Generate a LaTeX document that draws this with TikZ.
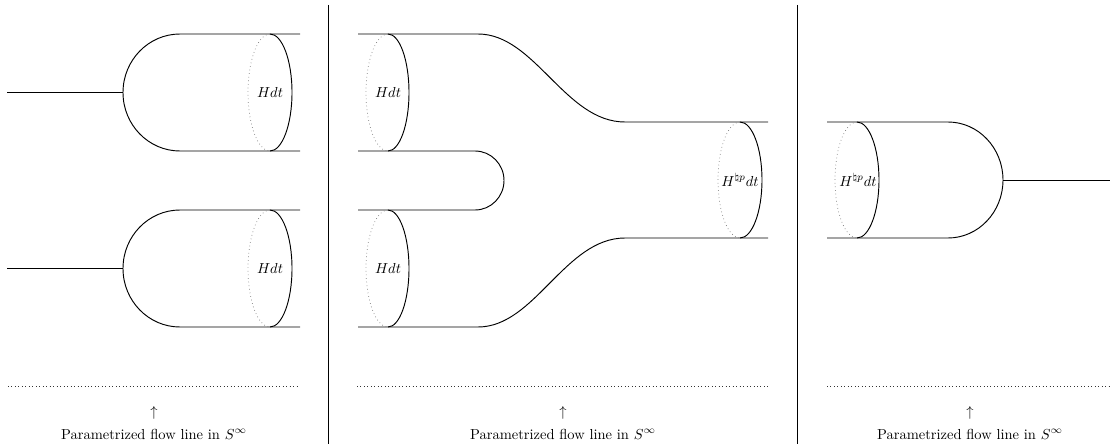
\documentclass[tikz,border=0pt]{standalone}
\usepackage{amssymb}
\begin{document}
\begin{tikzpicture}[x=0.69pt,y=0.69pt,
  tube/.style={line width=0.65pt},
  back/.style={dotted,gray,line width=0.5pt},
  sep/.style={line width=0.55pt},
  flowline/.style={dotted,line width=0.4pt,black!80},
  lab/.style={inner sep=0pt},
  captxt/.style={inner sep=0pt}]
\useasboundingbox (0,0) rectangle (1112,444);
% separators
\coordinate (s1t) at (328,439); \coordinate (s1b) at (328,0);
\coordinate (s2t) at (797,439); \coordinate (s2b) at (797,0);
\draw[sep] (s1t) -- (s1b);
\draw[sep] (s2t) -- (s2b);

% ---------- panel 1 ----------
% upper
\draw[tube] (7,351.5) -- (123,351.5);
\draw[tube] (300,410) -- (180,410) arc[start angle=90,end angle=270,x radius=57,y radius=58.5] -- (300,293);
\draw[tube] (270,410) arc[start angle=90,end angle=-90,x radius=22,y radius=58.5];
\draw[back] (270,410) arc[start angle=90,end angle=270,x radius=22,y radius=58.5];
\node[lab] (h1) at (270,351.5) {$H dt$};
% lower
\draw[tube] (7,175.5) -- (123,175.5);
\draw[tube] (300,234) -- (180,234) arc[start angle=90,end angle=270,x radius=57,y radius=58.5] -- (300,117);
\draw[tube] (270,234) arc[start angle=90,end angle=-90,x radius=22,y radius=58.5];
\draw[back] (270,234) arc[start angle=90,end angle=270,x radius=22,y radius=58.5];
\node[lab] (h2) at (270,175.5) {$H dt$};

% ---------- panel 2 ----------
\draw[tube] (358,410) -- (478,410) .. controls (535,410) and (565,322) .. (625,322) -- (768,322);
\draw[tube] (358,117) -- (478,117) .. controls (535,117) and (565,206) .. (625,206) -- (768,206);
\draw[tube] (358,293) -- (475,293) arc[start angle=90,end angle=-90,x radius=29,y radius=29.5] -- (358,234);
\draw[tube] (388,410) arc[start angle=90,end angle=-90,x radius=21,y radius=58.5];
\draw[back] (388,410) arc[start angle=90,end angle=270,x radius=22,y radius=58.5];
\node[lab] (h3) at (388,351.5) {$H dt$};
\draw[tube] (388,234) arc[start angle=90,end angle=-90,x radius=21,y radius=58.5];
\draw[back] (388,234) arc[start angle=90,end angle=270,x radius=22,y radius=58.5];
\node[lab] (h4) at (388,175.5) {$H dt$};
\draw[tube] (740,322) arc[start angle=90,end angle=-90,x radius=22,y radius=58];
\draw[back] (740,322) arc[start angle=90,end angle=270,x radius=22,y radius=58];
\node[lab] (h5) at (740,264) {$H^{\natural p}dt$};

% ---------- panel 3 ----------
\draw[tube] (827,322) -- (948,322) arc[start angle=90,end angle=-90,x radius=55,y radius=58] -- (827,206);
\draw[tube] (1003,264) -- (1110,264);
\draw[tube] (857,322) arc[start angle=90,end angle=-90,x radius=22,y radius=58];
\draw[back] (857,322) arc[start angle=90,end angle=270,x radius=22,y radius=58];
\node[lab] (h6) at (858,264) {$H^{\natural p}dt$};

% ---------- flow lines ----------
\draw[flowline] (8,58) -- (300,58);
\draw[flowline] (357,58) -- (768,58);
\draw[flowline] (827,58) -- (1110,58);
\node[captxt] (a1) at (154,31) {$\uparrow$};
\node[captxt] (c1) at (154,10) {Parametrized flow line in $S^\infty$};
\node[captxt] (a2) at (563,31) {$\uparrow$};
\node[captxt] (c2) at (563,10) {Parametrized flow line in $S^\infty$};
\node[captxt] (a3) at (970,31) {$\uparrow$};
\node[captxt] (c3) at (970,10) {Parametrized flow line in $S^\infty$};
\end{tikzpicture}
\end{document}
